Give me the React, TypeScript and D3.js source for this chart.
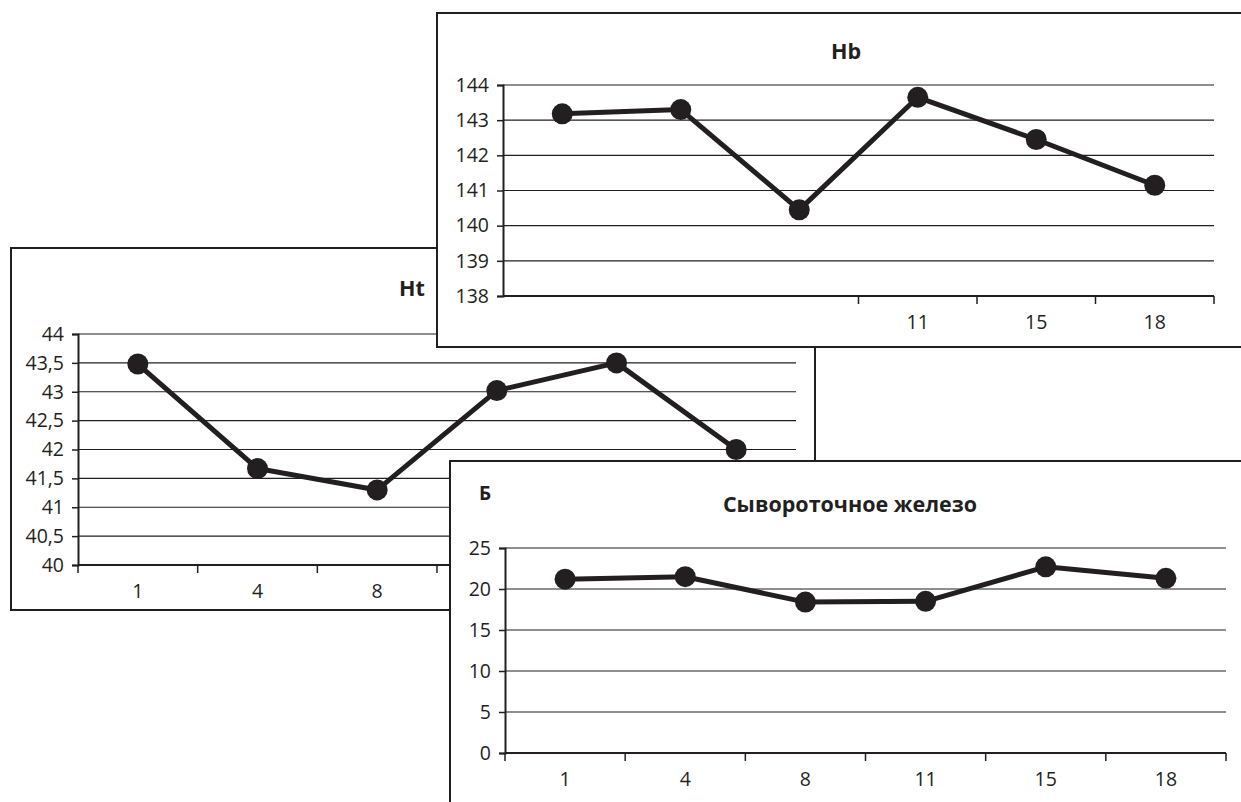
import { useEffect, useRef } from 'react';
import * as d3 from 'd3';

const days = ['1', '4', '8', '11', '15', '18'];

const hbValues = [143.18, 143.3, 140.45, 143.65, 142.45, 141.15];
const htValues = [43.48, 41.67, 41.3, 43.02, 43.5, 42.0];
const feValues = [21.2, 21.5, 18.4, 18.5, 22.7, 21.3];

const hbTicks = [138, 139, 140, 141, 142, 143, 144];
const htTicks = [40, 40.5, 41, 41.5, 42, 42.5, 43, 43.5, 44];
const feTicks = [0, 5, 10, 15, 20, 25];

// labels that are not covered by another panel
const hbShownDays = ['11', '15', '18'];
const htShownDays = ['1', '4', '8'];

const INK = '#231f20';
const FONT = '"Open Sans", sans-serif';

type Panel = {
  box: [number, number, number, number];
  plot: { left: number; right: number; top: number; bottom: number };
  values: number[];
  ticks: number[];
  shownDays: string[];
  tickFrom: number;
  title: string;
  titleX: number;
  titleY: number;
  letter?: string;
};

const drawPanel = (svg: d3.Selection<SVGSVGElement, unknown, null, undefined>, p: Panel) => {
  const g = svg.append('g');
  const [bx, by, bw, bh] = p.box;

  g.append('rect')
    .attr('x', bx).attr('y', by).attr('width', bw).attr('height', bh)
    .attr('fill', '#fff').attr('stroke', INK).attr('stroke-width', 2);

  const x = d3.scaleBand().domain(days).range([p.plot.left, p.plot.right]);
  const y = d3.scaleLinear()
    .domain([p.ticks[0], p.ticks[p.ticks.length - 1]])
    .range([p.plot.bottom, p.plot.top]);

  // grid
  g.selectAll('.grid')
    .data(p.ticks.slice(1))
    .enter().append('line')
    .attr('x1', p.plot.left).attr('x2', p.plot.right)
    .attr('y1', d => y(d)).attr('y2', d => y(d))
    .attr('stroke', INK).attr('stroke-width', 1.2);

  // y axis
  const yAxis = g.append('g')
    .attr('transform', `translate(${p.plot.left},0)`)
    .call(d3.axisLeft(y).tickValues(p.ticks).tickSize(6).tickPadding(8)
      .tickFormat(d => String(d).replace('.', ',')));
  yAxis.select('.domain').attr('stroke', INK).attr('stroke-width', 2);
  yAxis.selectAll('line').attr('stroke', INK).attr('stroke-width', 1.5);
  yAxis.selectAll('text').attr('font-family', FONT).attr('font-size', 19.5).attr('fill', INK);

  // x axis
  g.append('line')
    .attr('x1', p.plot.left).attr('x2', p.plot.right)
    .attr('y1', p.plot.bottom).attr('y2', p.plot.bottom)
    .attr('stroke', INK).attr('stroke-width', 2);

  const bounds = days.map(d => x(d) as number).concat([p.plot.right]);
  g.selectAll('.xtick')
    .data(bounds.filter((_, i) => i >= p.tickFrom))
    .enter().append('line')
    .attr('x1', d => d).attr('x2', d => d)
    .attr('y1', p.plot.bottom).attr('y2', p.plot.bottom + 8)
    .attr('stroke', INK).attr('stroke-width', 1.5);

  g.selectAll('.xlabel')
    .data(p.shownDays)
    .enter().append('text')
    .attr('x', d => (x(d) as number) + x.bandwidth() / 2)
    .attr('y', p.plot.bottom + 33)
    .attr('text-anchor', 'middle')
    .attr('font-family', FONT).attr('font-size', 19.5).attr('fill', INK)
    .text(d => d);

  // series
  const line = d3.line<number>()
    .x((_, i) => (x(days[i]) as number) + x.bandwidth() / 2)
    .y(d => y(d));

  g.append('path')
    .datum(p.values)
    .attr('d', line)
    .attr('fill', 'none').attr('stroke', INK).attr('stroke-width', 5)
    .attr('stroke-linejoin', 'round');

  g.selectAll('.pt')
    .data(p.values)
    .enter().append('circle')
    .attr('cx', (_, i) => (x(days[i]) as number) + x.bandwidth() / 2)
    .attr('cy', d => y(d))
    .attr('r', 10.5)
    .attr('fill', INK);

  g.append('text')
    .attr('x', p.titleX).attr('y', p.titleY)
    .attr('text-anchor', 'middle')
    .attr('font-family', FONT).attr('font-weight', 700).attr('font-size', 21.5).attr('fill', INK)
    .text(p.title);

  if (p.letter) {
    g.append('text')
      .attr('x', 485).attr('y', 500)
      .attr('text-anchor', 'middle')
      .attr('font-family', FONT).attr('font-weight', 700).attr('font-size', 19).attr('fill', INK)
      .text(p.letter);
  }
};

const App = () => {
  const ref = useRef<SVGSVGElement>(null);

  useEffect(() => {
    const svg = d3.select(ref.current);
    svg.selectAll('*').remove();

    drawPanel(svg, {
      box: [11, 248, 804, 362],
      plot: { left: 78, right: 796, top: 334, bottom: 565 },
      values: htValues, ticks: htTicks, shownDays: htShownDays, tickFrom: 0,
      title: 'Ht', titleX: 412, titleY: 296,
    });

    drawPanel(svg, {
      box: [437, 13, 830, 334],
      plot: { left: 503, right: 1214, top: 85, bottom: 296 },
      values: hbValues, ticks: hbTicks, shownDays: hbShownDays, tickFrom: 3,
      title: 'Hb', titleX: 846, titleY: 59,
    });

    drawPanel(svg, {
      box: [450, 461, 820, 360],
      plot: { left: 505, right: 1226, top: 548, bottom: 753 },
      values: feValues, ticks: feTicks, shownDays: days, tickFrom: 0,
      title: 'Сывороточное железо', titleX: 850, titleY: 512,
      letter: 'Б',
    });
  }, []);

  return (
    <svg ref={ref} width={1241} height={802}
      style={{ position: 'absolute', left: 0, top: 0, background: '#fff' }} />
  );
};

export default App;
